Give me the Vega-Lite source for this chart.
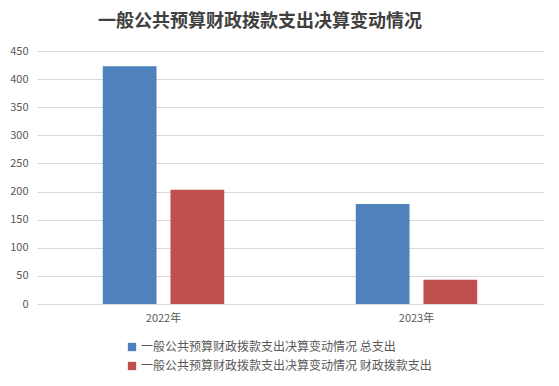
{
  "$schema": "https://vega.github.io/schema/vega-lite/v6.json",
  "width": 506,
  "height": 253,
  "autosize": {"type": "none"},
  "padding": {"left": 37, "top": 51, "right": 16, "bottom": 82},
  "background": "white",
  "title": {
    "text": "一般公共预算财政拨款支出决算变动情况",
    "font": "Noto Sans CJK SC",
    "fontSize": 18,
    "fontWeight": "bold",
    "color": "#404040",
    "anchor": "middle",
    "dx": -30,
    "offset": 14
  },
  "data": {
    "values": [
      {"year": "2022年", "series": "一般公共预算财政拨款支出决算变动情况 总支出", "value": 423},
      {"year": "2022年", "series": "一般公共预算财政拨款支出决算变动情况 财政拨款支出", "value": 203},
      {"year": "2023年", "series": "一般公共预算财政拨款支出决算变动情况 总支出", "value": 178},
      {"year": "2023年", "series": "一般公共预算财政拨款支出决算变动情况 财政拨款支出", "value": 43}
    ]
  },
  "mark": {"type": "bar"},
  "encoding": {
    "x": {
      "field": "year",
      "type": "nominal",
      "scale": {"paddingInner": 0.52, "paddingOuter": 0.26},
      "axis": {
        "title": null,
        "labelAngle": 0,
        "ticks": false,
        "domainColor": "#d9d9d9",
        "labelColor": "#595959",
        "labelFont": "Noto Sans CJK SC",
        "labelFontSize": 11,
        "labelPadding": 8
      }
    },
    "xOffset": {
      "field": "series",
      "type": "nominal",
      "sort": ["一般公共预算财政拨款支出决算变动情况 总支出", "一般公共预算财政拨款支出决算变动情况 财政拨款支出"],
      "scale": {"paddingInner": 0.206, "paddingOuter": 0}
    },
    "y": {
      "field": "value",
      "type": "quantitative",
      "scale": {"domain": [0, 450]},
      "axis": {
        "title": null,
        "values": [0, 50, 100, 150, 200, 250, 300, 350, 400, 450],
        "domain": false,
        "ticks": false,
        "gridColor": "#d9d9d9",
        "labelColor": "#595959",
        "labelFont": "Noto Sans CJK SC",
        "labelFontSize": 11,
        "labelPadding": 9
      }
    },
    "color": {
      "field": "series",
      "type": "nominal",
      "sort": ["一般公共预算财政拨款支出决算变动情况 总支出", "一般公共预算财政拨款支出决算变动情况 财政拨款支出"],
      "scale": {"range": ["#4F81BD", "#C0504D"]},
      "legend": {
        "title": null,
        "orient": "none",
        "legendX": 89,
        "legendY": 290,
        "direction": "vertical",
        "symbolType": "square",
        "symbolSize": 70,
        "labelOffset": 3,
        "labelFont": "Noto Sans CJK SC",
        "labelFontSize": 12,
        "labelColor": "#595959",
        "labelLimit": 400,
        "rowPadding": 7
      }
    }
  },
  "config": {"view": {"stroke": null}}
}
